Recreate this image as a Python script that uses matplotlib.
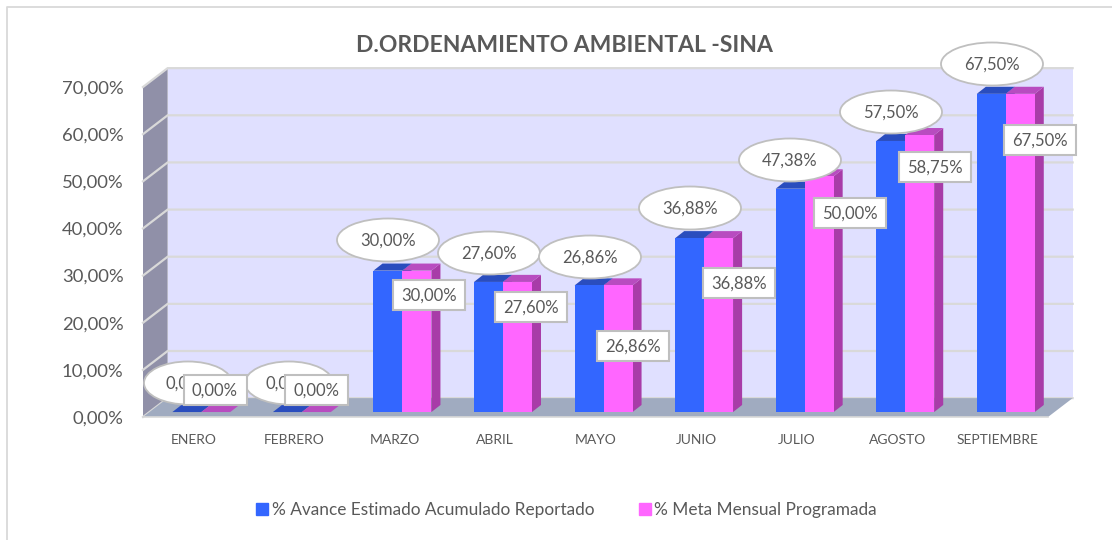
import matplotlib
matplotlib.use("Agg")
import matplotlib.pyplot as plt
from matplotlib.patches import Ellipse, Rectangle, Polygon
from matplotlib.lines import Line2D
from matplotlib.transforms import IdentityTransform

plt.rcParams['font.family'] = ['Lato', 'DejaVu Sans']

months = ["ENERO", "FEBRERO", "MARZO", "ABRIL", "MAYO", "JUNIO", "JULIO", "AGOSTO", "SEPTIEMBRE"]
avance = [0, 0, 30.00, 27.60, 26.86, 36.88, 47.38, 57.50, 67.50]
meta = [0, 0, 30.00, 27.60, 26.86, 36.88, 50.00, 58.75, 67.50]
yticks = [0, 10, 20, 30, 40, 50, 60, 70]
title = "D.ORDENAMIENTO AMBIENTAL -SINA"
names = ["% Avance Estimado Acumulado Reportado", "% Meta Mensual Programada"]

W, H = 1112, 540
fig = plt.figure(figsize=(W / 100, H / 100), dpi=100, facecolor="white")
L, R, T, B = 143, 1048, 87, 417
ax = fig.add_axes([L / W, 1 - B / H, (R - L) / W, (B - T) / H])
ax.set_xlim(-0.5, 8.5)
ax.set_ylim(0, 70)
ax.patch.set_visible(False)
for s in ax.spines.values():
    s.set_visible(False)

# depth vectors in data units
WX, WY = 0.245, 4.0
BX0, BY0 = 0.08, 1.05
BX1, BY1 = 0.17, 2.55
BW = 0.288
x0, x1 = -0.5, 8.5
GRID = "#D9D9D9"

ax.add_patch(Polygon([(x0 + WX, WY), (x1 + WX, WY), (x1 + WX, 70 + WY), (x0 + WX, 70 + WY)],
                     fc="#E0E0FF", ec="none", zorder=1, clip_on=False))
ax.add_patch(Polygon([(x0, 0), (x0 + WX, WY), (x0 + WX, 70 + WY), (x0, 70)],
                     fc="#9090A8", ec="none", zorder=1, clip_on=False))
for v in yticks:
    ax.plot([x0, x0 + WX, x1 + WX], [v, v + WY, v + WY], color=GRID, lw=1.6, zorder=2,
            clip_on=False, solid_joinstyle="miter")
ax.add_patch(Polygon([(x0, 0), (x1, 0), (x1 + WX, WY), (x0 + WX, WY)],
                     fc="#A0ABC0", ec="none", zorder=2.5, clip_on=False))
ax.plot([x0, x1], [0, 0], color=GRID, lw=1.2, zorder=2.6, clip_on=False)

series = [(avance, -BW, "#3366FF", "#2A4DBE", "#2A4DBE"),
          (meta, 0, "#FF66FF", "#A83CA8", "#B84CC0")]
for i in range(len(months)):
    for vals, off, face, side, top in series:
        v = vals[i]
        a = i + BX0 + off
        b = a + BW
        dx, dy = BX1 - BX0, BY1 - BY0
        zo = 3 + i * 0.01
        ax.bar(a, v, width=BW, bottom=BY0, align="edge", color=face, zorder=zo + 0.002, clip_on=False)
        ax.add_patch(Polygon([(b, BY0), (b + dx, BY0 + dy), (b + dx, BY0 + dy + v), (b, BY0 + v)],
                             fc=side, ec="none", zorder=zo, clip_on=False))
        ax.add_patch(Polygon([(a, BY0 + v), (b, BY0 + v), (b + dx, BY0 + v + dy), (a + dx, BY0 + v + dy)],
                             fc=top, ec="none", zorder=zo + 0.001, clip_on=False))

ax.set_xticks(range(len(months)), months, fontsize=10, color="#595959")
ax.set_yticks(yticks, [f"{v:.2f}%".replace(".", ",") for v in yticks], fontsize=13.3, color="#595959")
ax.tick_params(axis="both", length=0)
ax.tick_params(axis="x", pad=12)
ax.tick_params(axis="y", pad=14)

# layout of the callouts, in reference pixels
ell_pos = [(188, 383), (289, 383), (388, 240), (489, 253), (590, 257), (690, 208), (790, 160), (891, 112), (992, 64)]
box_pos = [(215, 390), (316, 390), (429, 295), (531, 307), (633, 346), (739, 283), (850, 213), (935, 167), (1040, 140)]
ID = IdentityTransform()
EDGE = "#BFBFBF"


def fy(y):
    return H - y


def fmt(v):
    return f"{v:.2f}%".replace(".", ",")


for i, (vals, (ex, ey)) in enumerate(zip(avance, ell_pos)):
    ew = 88 if vals < 10 else 102
    fig.add_artist(Ellipse((ex, fy(ey)), ew, 43, fc="white", ec=EDGE, lw=1.3, transform=ID, zorder=5 + i * 0.01))
    fig.text(ex, fy(ey) - 1, fmt(vals), transform=ID, ha="center", va="center", fontsize=12, color="#595959",
             zorder=5 + i * 0.01 + 0.001)
for i, (vals, (bx, by)) in enumerate(zip(meta, box_pos)):
    bw = 63 if vals < 10 else 72
    fig.add_artist(Rectangle((bx - bw / 2, fy(by) - 15), bw, 30, fc="white", ec=EDGE, lw=1.5, transform=ID,
                             zorder=6 + i * 0.01))
    fig.text(bx, fy(by) - 1, fmt(vals), transform=ID, ha="center", va="center", fontsize=12, color="#595959",
             zorder=6 + i * 0.01 + 0.001)

fig.text(564 / W, 1 - 46 / H, title, ha="center", va="center", fontsize=16.5, fontweight="bold", color="#595959")

# frame: only the top and left edges show in the reference
fig.add_artist(Line2D([7, 7, W], [0, fy(6.5), fy(6.5)], color="#D9D9D9", lw=1.3, transform=ID, zorder=0))

handles = [Line2D([], [], ls="none", marker="s", ms=8, color="#3366FF", label=names[0]),
           Line2D([], [], ls="none", marker="s", ms=8, color="#FF66FF", label=names[1])]
fig.legend(handles=handles, loc="center", bbox_to_anchor=(564.8 / W, 1 - 510 / H), ncol=2, frameon=False,
           fontsize=12.45, labelcolor="#595959", handletextpad=0.0, columnspacing=2.37, handlelength=1.1)

fig.savefig("out.png", dpi=100)
